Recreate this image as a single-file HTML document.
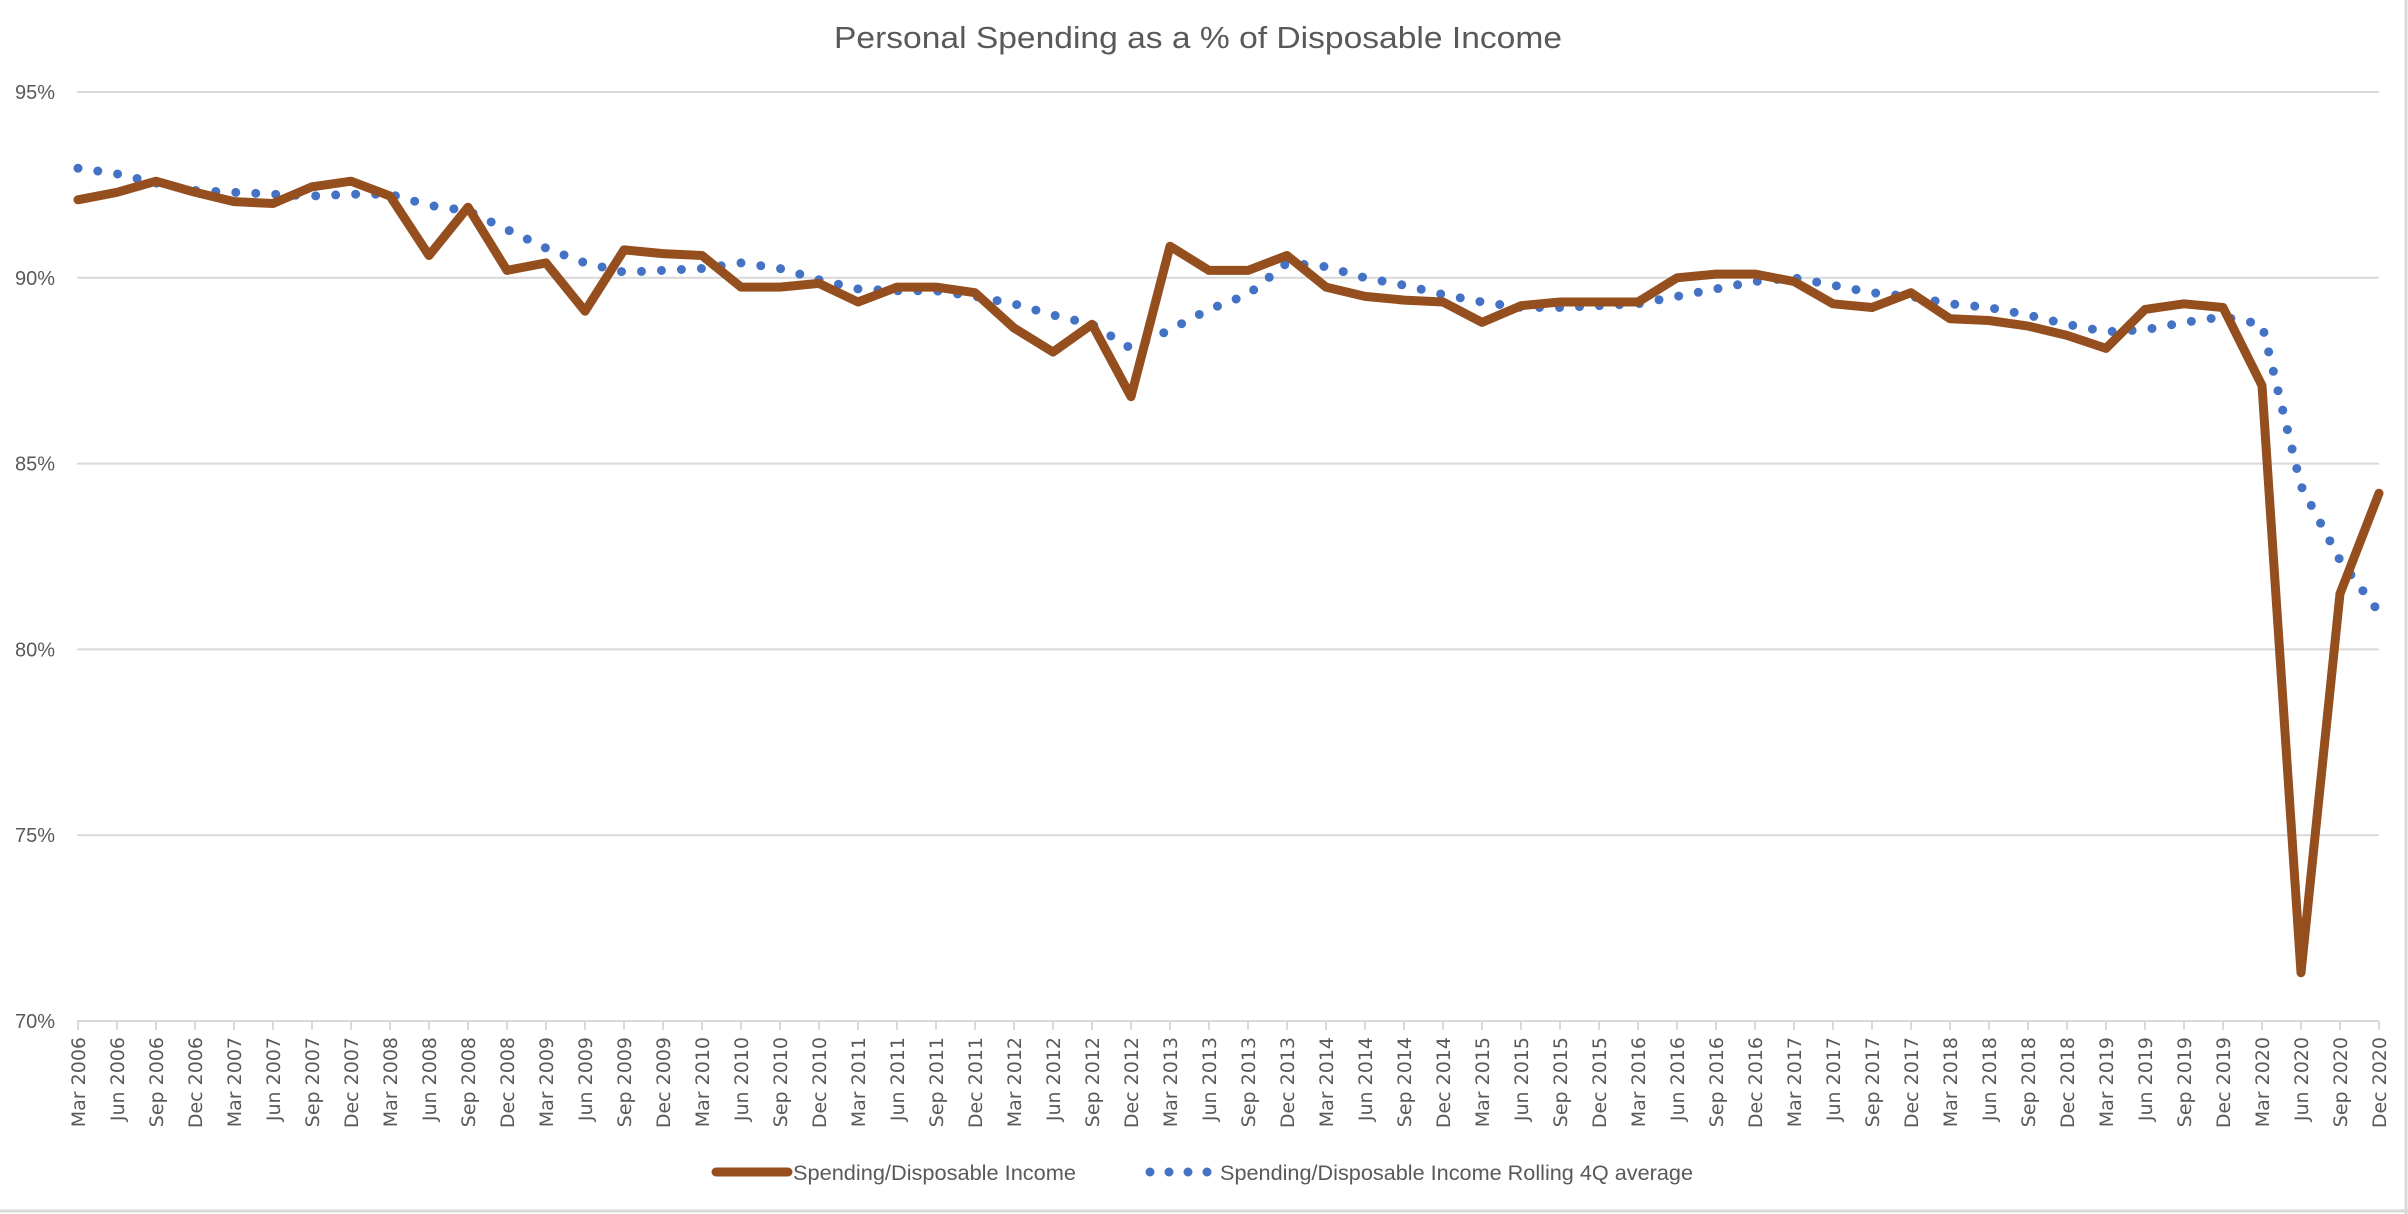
<!DOCTYPE html>
<html><head><meta charset="utf-8"><style>
html,body{margin:0;padding:0;background:#fff;}
svg{display:block;font-family:"Liberation Sans",sans-serif;}
</style></head><body>
<svg id="c" width="2408" height="1214" xmlns="http://www.w3.org/2000/svg">
<rect x="0" y="0" width="2408" height="1214" fill="#fff"/>
<line x1="2406" y1="0" x2="2406" y2="1214" stroke="#d9d9d9" stroke-width="3"/>
<line x1="0" y1="1211" x2="2408" y2="1211" stroke="#d9d9d9" stroke-width="3"/>
<text x="1198" y="48" font-size="31" fill="#595959" text-anchor="middle" textLength="728" lengthAdjust="spacingAndGlyphs">Personal Spending as a % of Disposable Income</text>
<g id="grid"></g>
<g id="xl"></g>
<g id="series"></g>
<line x1="716" y1="1172" x2="788" y2="1172" stroke="#954F1F" stroke-width="9" stroke-linecap="round"/>
<text x="793" y="1180" font-size="21" fill="#595959" textLength="283" lengthAdjust="spacingAndGlyphs">Spending/Disposable Income</text>
<line x1="1150" y1="1172" x2="1210" y2="1172" stroke="#4472C4" stroke-width="9" stroke-linecap="round" stroke-dasharray="0 19"/>
<text x="1220" y="1180" font-size="21" fill="#595959" textLength="473" lengthAdjust="spacingAndGlyphs">Spending/Disposable Income Rolling 4Q average</text>
</svg>
<script>
var NS="http://www.w3.org/2000/svg";
function el(t,a,p,txt){var e=document.createElementNS(NS,t);for(var k in a)e.setAttribute(k,a[k]);if(txt)e.textContent=txt;p.appendChild(e);return e;}
var x0=78,x1=2379,n=60,dx=(x1-x0)/(n-1);
function Y(v){return 1021-(v-70)*37.16;}
var g=document.getElementById('grid');
[95,90,85,80,75].forEach(function(v){el('line',{x1:77,x2:2379,y1:Y(v),y2:Y(v),stroke:'#d9d9d9','stroke-width':2},g);});
[95,90,85,80,75,70].forEach(function(v){el('text',{x:55,y:Y(v)+7,'font-size':20,fill:'#595959','text-anchor':'end'},g,v+'%');});
el('line',{x1:77,x2:2379,y1:1021,y2:1021,stroke:'#d9d9d9','stroke-width':2},g);
var xl=document.getElementById('xl');
var m=['Mar','Jun','Sep','Dec'];
for(var i=0;i<n;i++){var x=x0+i*dx;
 el('line',{x1:x,x2:x,y1:1021,y2:1030,stroke:'#d9d9d9','stroke-width':2},xl);
 el('text',{x:0,y:0,'font-size':19,'font-family':'DejaVu Sans, sans-serif',fill:'#595959','text-anchor':'end',transform:'translate('+(x+7)+',1037) rotate(-90)'},xl,m[i%4]+' '+(2006+Math.floor(i/4)));
}
var b=[92.1,92.3,92.6,92.3,92.05,92.0,92.45,92.6,92.2,90.6,91.9,90.2,90.4,89.1,90.75,90.65,90.6,89.75,89.75,89.85,89.35,89.75,89.75,89.6,88.65,88.0,88.75,86.8,90.85,90.2,90.2,90.6,89.75,89.5,89.4,89.35,88.8,89.25,89.35,89.35,89.35,90.0,90.1,90.1,89.9,89.3,89.2,89.6,88.9,88.85,88.7,88.45,88.1,89.15,89.3,89.2,87.1,71.3,81.5,84.2];
var r=[92.95,92.8,92.55,92.35,92.3,92.25,92.2,92.25,92.25,91.95,91.8,91.3,90.8,90.4,90.15,90.2,90.25,90.4,90.25,89.95,89.7,89.65,89.65,89.5,89.3,89.0,88.75,88.1,88.6,89.15,89.55,90.4,90.3,90.0,89.8,89.55,89.35,89.2,89.2,89.25,89.3,89.5,89.7,89.9,90.0,89.8,89.6,89.5,89.3,89.2,89.0,88.75,88.55,88.6,88.8,88.95,88.75,84.4,82.4,81.0];
function pts(a){return a.map(function(v,i){return (x0+i*dx).toFixed(1)+','+Y(v).toFixed(1);}).join(' ');}
var s=document.getElementById('series');
el('polyline',{points:pts(r),fill:'none',stroke:'#4472C4','stroke-width':9,'stroke-linecap':'round','stroke-dasharray':'0 20'},s);
el('polyline',{points:pts(b),fill:'none',stroke:'#954F1F','stroke-width':9,'stroke-linecap':'round','stroke-linejoin':'round'},s);
</script>
</body></html>
